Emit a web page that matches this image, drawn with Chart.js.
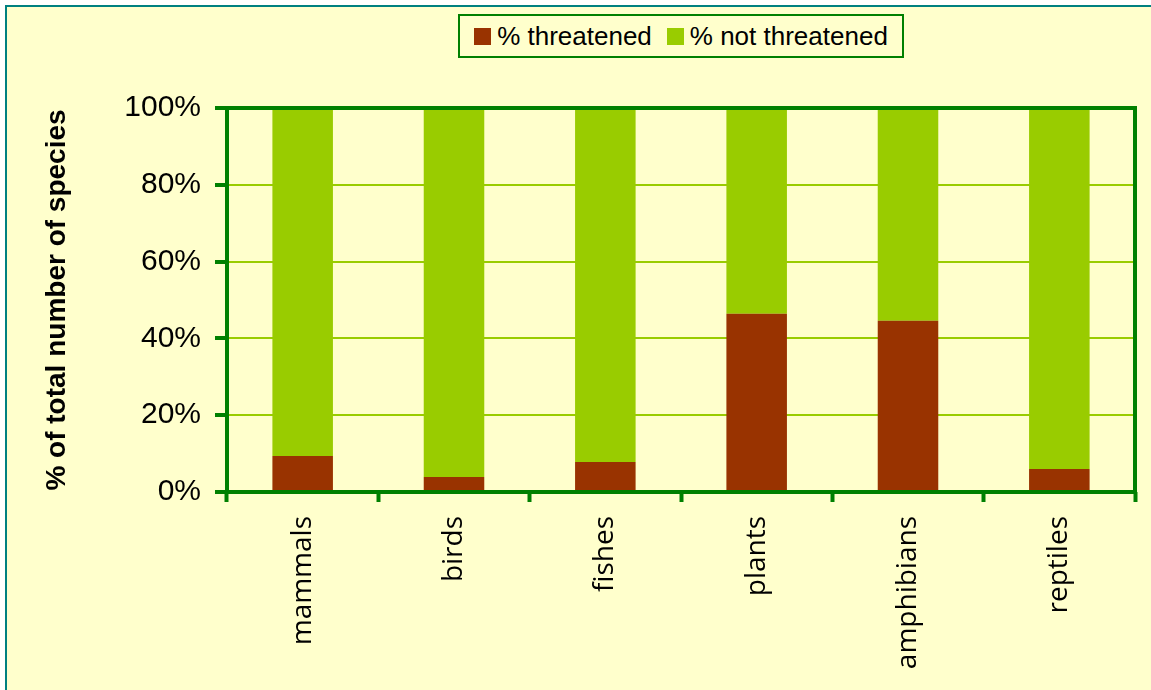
<!DOCTYPE html>
<html>
<head>
<meta charset="utf-8">
<script src="https://cdn.jsdelivr.net/npm/chart.js@4"></script>
<style>
  html, body { margin: 0; padding: 0; background: #ffffff; overflow: hidden; }
  #frame {
    position: absolute; left: 5px; top: 5px; width: 1200px; height: 800px;
    border: 2px solid #008080; background: #ffffcc;
  }
  #wrap { position: absolute; left: 0; top: 0; width: 1151px; height: 690px; }
  #legend {
    position: absolute; left: 458px; top: 14px; width: 446px; height: 44px;
    box-sizing: border-box; border: 2px solid #008000; background: #ffffcc;
    display: flex; align-items: center; justify-content: center;
    font-family: "Liberation Sans", Arial, sans-serif; font-size: 26px; color: #000;
  }
  #legend .item { display: flex; align-items: center; }
  #legend .swatch { width: 17px; height: 17px; margin-right: 6px; }
  #legend .item + .item { margin-left: 15px; }
</style>
</head>
<body>
<div id="frame"></div>
<div id="wrap"><canvas id="chart" width="1151" height="690"></canvas></div>
<div id="legend"></div>

<script>
// ---- data ----
const categories = ['mammals', 'birds', 'fishes', 'plants', 'amphibians', 'reptiles'];
const threatened = [9.4, 3.9, 7.8, 46.4, 44.6, 6.0];
const notThreatened = [90.6, 96.1, 92.2, 53.6, 55.4, 94.0];
const yTicks = [0, 20, 40, 60, 80, 100];

const RED = '#993300';
const LIME = '#99cc00';
const AXIS_GREEN = '#008000';

// draws the heavy green frame round the plot area, on top of the bars
const plotFrame = {
  id: 'plotFrame',
  afterDatasetsDraw(chart) {
    const a = chart.chartArea;
    const c = chart.ctx;
    c.save();
    c.strokeStyle = AXIS_GREEN;
    c.lineWidth = 4;
    c.strokeRect(a.left, a.top, a.right - a.left, a.bottom - a.top);
    c.restore();
  }
};

const ctx = document.getElementById('chart');
const chart = new Chart(ctx, {
  type: 'bar',
  data: {
    labels: categories,
    datasets: [
      { label: '% threatened', data: threatened, backgroundColor: RED, borderWidth: 0,
        barPercentage: 0.4, categoryPercentage: 1.0 },
      { label: '% not threatened', data: notThreatened, backgroundColor: LIME, borderWidth: 0,
        barPercentage: 0.4, categoryPercentage: 1.0 }
    ]
  },
  options: {
    responsive: false,
    animation: false,
    layout: { padding: { left: 40, top: 108, right: 16, bottom: 0 } },
    plugins: {
      legend: { display: false },
      tooltip: { enabled: false }
    },
    scales: {
      x: {
        stacked: true,
        offset: true,
        grid: {
          display: true, drawOnChartArea: false, offset: true,
          tickLength: 10, tickColor: AXIS_GREEN, tickWidth: 4, color: AXIS_GREEN
        },
        border: { display: false },
        ticks: {
          minRotation: 90, maxRotation: 90, padding: 14,
          color: '#000',
          font: { family: '"Open Sans", sans-serif', size: 28 }
        },
        afterFit(scale) { scale.height = 198; }
      },
      y: {
        stacked: true,
        min: 0, max: 100,
        afterBuildTicks(scale) { scale.ticks = yTicks.map(v => ({ value: v })); },
        grid: {
          color: LIME, lineWidth: 2,
          tickLength: 12, tickColor: AXIS_GREEN, tickWidth: 4
        },
        border: { display: false },
        ticks: {
          padding: 14,
          color: '#000',
          font: { family: '"Liberation Sans", Arial, sans-serif', size: 30 },
          callback: v => v + '%'
        },
        title: {
          display: true,
          text: '% of total number of species',
          color: '#000',
          font: { family: '"Liberation Sans", Arial, sans-serif', size: 28, weight: 'bold' },
          padding: { top: 0, bottom: 0 }
        },
        afterFit(scale) { scale.width = 187; }
      }
    }
  },
  plugins: [plotFrame]
});

// html legend built from the datasets
const legendEl = document.getElementById('legend');
chart.data.datasets.forEach(ds => {
  const item = document.createElement('div');
  item.className = 'item';
  const sw = document.createElement('span');
  sw.className = 'swatch';
  sw.style.background = ds.backgroundColor;
  const txt = document.createElement('span');
  txt.textContent = ds.label;
  item.appendChild(sw);
  item.appendChild(txt);
  legendEl.appendChild(item);
});
</script>
</body>
</html>
